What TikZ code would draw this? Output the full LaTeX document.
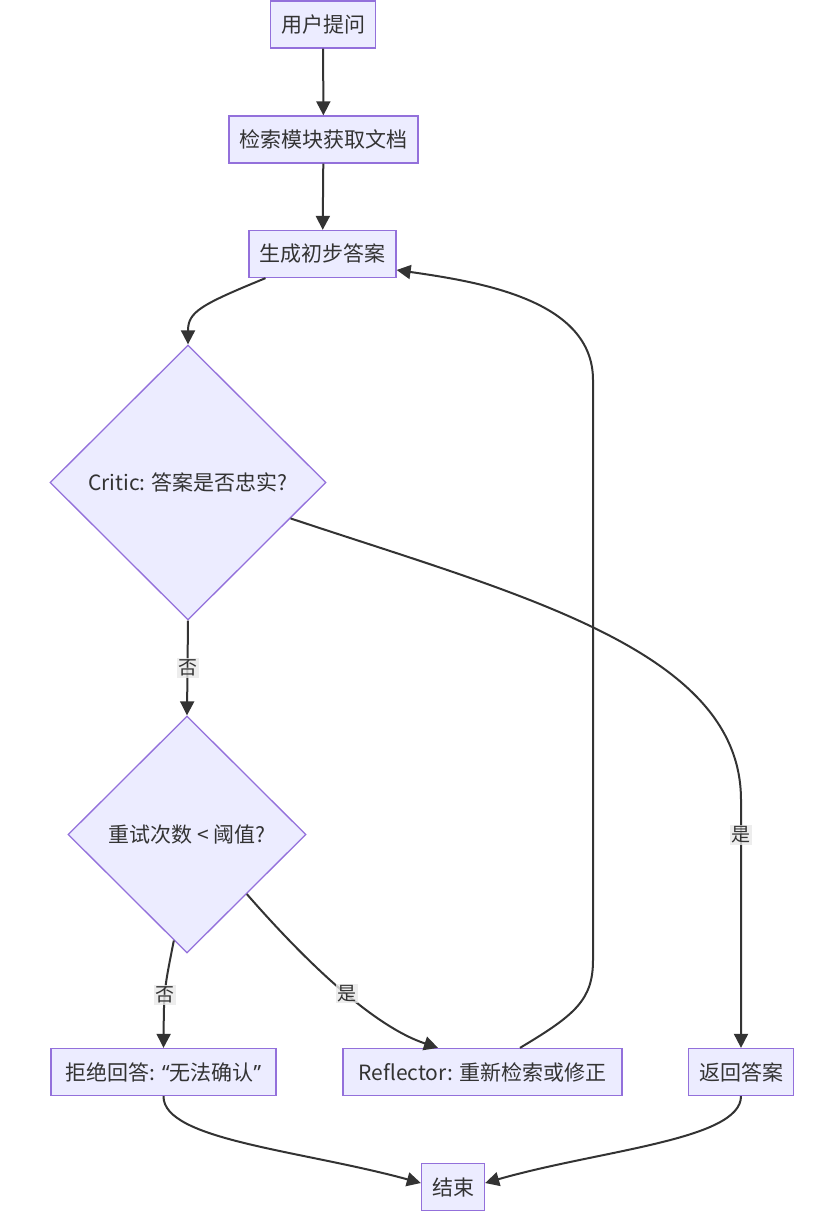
\documentclass[tikz,border=0pt]{standalone}
\usepackage{fontspec}
\newfontfamily\cjk{Noto Sans CJK SC}
\newfontfamily\quotefont{Noto Sans}
\usetikzlibrary{shapes.geometric,arrows.meta,calc}
\definecolor{nodefill}{HTML}{ECECFF}
\definecolor{nodeline}{HTML}{9370DB}
\definecolor{edgeline}{HTML}{333333}
\definecolor{lblfill}{HTML}{E8E8E8}

\begin{document}
\begin{tikzpicture}[x=1pt,y=-1pt,
  box/.style={rectangle,draw=nodeline,fill=nodefill,line width=1.3pt,minimum height=47pt,inner xsep=10.5pt,text=edgeline,font=\cjk\fontsize{21}{25}\selectfont},
  decision/.style={diamond,draw=nodeline,fill=nodefill,line width=1.3pt,inner sep=0pt,aspect=1,text=edgeline,font=\cjk\fontsize{21}{25}\selectfont},
  flow/.style={draw=edgeline,line width=2pt,-{Triangle[length=14pt,width=14pt]}},
  lbl/.style={fill=lblfill,fill opacity=0.8,text opacity=1,inner sep=1.5pt,text=edgeline,font=\cjk\fontsize{19}{22}\selectfont}]
\useasboundingbox (0,0) rectangle (826,1220);

\node[box] (ask)    at (323,24.5)    {用户提问};
\node[box] (fetch)  at (323.5,139.5) {检索模块获取文档};
\node[box] (gen)    at (322.5,254)   {生成初步答案};
\node[decision,minimum width=276pt,minimum height=275pt] (critic) at (188,482.5) {Critic: 答案是否忠实?};
\node[decision,minimum width=238pt,minimum height=237pt] (retry)  at (187,834.5) {重试次数 < 阈值?};
\node[box,minimum width=225pt] (rej) at (163.5,1072) {拒绝回答: {\quotefont “}无法确认{\quotefont ”}};
\node[box,minimum width=279pt] (refl) at (482.5,1072) {Reflector: 重新检索或修正};
\node[box] (ret)    at (741,1072)    {返回答案};
\node[box] (finish) at (453,1187)    {结束};

\draw[flow] (ask) -- (fetch);
\draw[flow] (fetch) -- (gen);
\draw[flow] ([xshift=-57pt]gen.south) .. controls (200,305) and (188,312) .. (critic.north);
\draw[flow] (critic.south) -- node[lbl]{否} (retry.north);
\draw[flow] ($(critic.east)!0.26!(critic.south)$) .. controls (520,595) and (741,650) .. (741,800)
  -- node[lbl,pos=0.14]{是} (ret.north);
\draw[flow] ($(retry.south)!0.11!(retry.west)$) .. controls (164,990) .. node[lbl,pos=0.55]{否} (rej.north);
\draw[flow] ($(retry.south)!0.5!(retry.east)$) .. controls (300,955) and (370,1025) .. node[lbl,pos=0.55]{是} ([xshift=-44.5pt]refl.north);
\draw[flow] ([xshift=37.5pt]refl.north) .. controls (575,1015) and (593,1000) .. (593,960)
  -- (593,380) .. controls (593,300) and (480,282) .. ([yshift=-16pt]gen.east);
\draw[flow] (rej.south) .. controls (163,1140) and (300,1150) .. ([yshift=4pt]finish.west);
\draw[flow] (ret.south) .. controls (741,1140) and (600,1150) .. ([yshift=4pt]finish.east);

\end{tikzpicture}
\end{document}
